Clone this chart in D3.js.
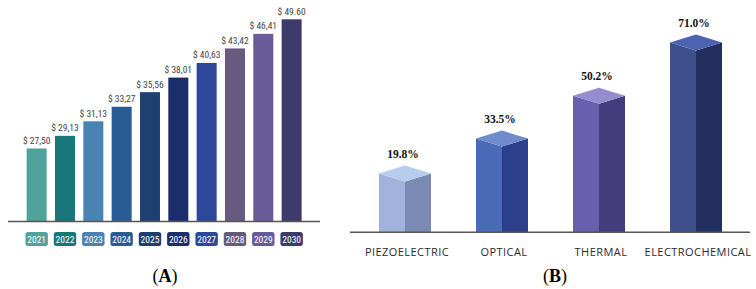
<!DOCTYPE html>
<html>
<head>
<meta charset="utf-8">
<script src="https://cdn.jsdelivr.net/npm/d3@7"></script>
<style>
  body { margin: 0; background: #fff; }
  svg { display: block; }
</style>
</head>
<body>
<div id="chart"></div>
<script>
// panel A: market size per year
const years = ["2021", "2022", "2023", "2024", "2025", "2026", "2027", "2028", "2029", "2030"];
const marketValues = [27.50, 29.13, 31.13, 33.27, 35.56, 38.01, 40.63, 43.42, 46.41, 49.60];
const marketLabels = ["$ 27,50", "$ 29,13", "$ 31,13", "$ 33,27", "$ 35,56", "$ 38,01", "$ 40,63", "$ 43,42", "$ 46,41", "$ 49.60"];
const yearColors = ["#4fa39b", "#19777c", "#4b82b4", "#295c95", "#1f3e72", "#1c2d6d", "#2d4898", "#665a81", "#675b9a", "#3d3b6b"];

// panel B: share per sensor type
const sensorTypes = ["PIEZOELECTRIC", "OPTICAL", "THERMAL", "ELECTROCHEMICAL"];
const sensorShares = [19.8, 33.5, 50.2, 71.0];
const faceColors = [
    { left: "#a2b2dc", right: "#7b8ab5", top: "#b7cdee" },
    { left: "#4a6bb8", right: "#2b3f8c", top: "#6f8bcc" },
    { left: "#6a5fae", right: "#433e7b", top: "#968cd0" },
    { left: "#3e4f8c", right: "#232f5e", top: "#4c63b0" }
];

const width = 756, height = 289;
const svg = d3.select("#chart").append("svg")
    .attr("width", width)
    .attr("height", height);

// ---------- panel A ----------
const baseA = 221.5;
const xA = d3.scaleBand()
    .domain(years)
    .range([22.5, 305.8])
    .paddingInner(0.294)
    .paddingOuter(0.147);
// the bars in the source grow roughly with the log of the value
const yA = d3.scaleLog()
    .domain([19.7, 49.6])
    .range([baseA, 19.3]);

const gA = svg.append("g");
const narrow = "'Liberation Sans Narrow', 'Roboto Condensed', 'Open Sans', sans-serif";

gA.selectAll("rect.bar")
    .data(years)
    .enter().append("rect")
    .attr("class", "bar")
    .attr("x", d => xA(d))
    .attr("y", (d, i) => yA(marketValues[i]))
    .attr("width", xA.bandwidth())
    .attr("height", (d, i) => baseA - yA(marketValues[i]))
    .attr("fill", (d, i) => yearColors[i]);

gA.selectAll("text.val")
    .data(years)
    .enter().append("text")
    .attr("class", "val")
    .attr("x", d => xA(d) + xA.bandwidth() / 2)
    .attr("y", (d, i) => yA(marketValues[i]) - 4.5)
    .attr("text-anchor", "middle")
    .style("font-family", narrow)
    .style("font-size", "9.5px")
    .style("fill", "#444")
    .text((d, i) => marketLabels[i]);

gA.append("line")
    .attr("x1", 8).attr("x2", 320)
    .attr("y1", baseA).attr("y2", baseA)
    .attr("stroke", "#555")
    .attr("stroke-width", 1.5);

const badgeW = 22.4;
gA.selectAll("rect.badge")
    .data(years)
    .enter().append("rect")
    .attr("class", "badge")
    .attr("x", d => xA(d) + xA.bandwidth() / 2 - badgeW / 2)
    .attr("y", 232)
    .attr("width", badgeW)
    .attr("height", 14)
    .attr("rx", 2.5)
    .attr("fill", (d, i) => yearColors[i]);

gA.selectAll("text.year")
    .data(years)
    .enter().append("text")
    .attr("class", "year")
    .attr("x", d => xA(d) + xA.bandwidth() / 2)
    .attr("y", 242.8)
    .attr("text-anchor", "middle")
    .style("font-family", narrow)
    .style("font-size", "9.5px")
    .style("fill", "#fff")
    .text(d => d);

// ---------- panel B ----------
const baseB = 232.3;
const xB = d3.scalePoint()
    .domain(sensorTypes)
    .range([405, 696]);
const yB = d3.scaleLinear()
    .domain([0, 80])
    .range([baseB, baseB - 80 * 2.56]);

const half = 26, dip = 8;
const gB = svg.append("g");

const bars = gB.selectAll("g.bar3d")
    .data(sensorTypes)
    .enter().append("g")
    .attr("class", "bar3d");

bars.each(function (d, i) {
    const g = d3.select(this);
    const c = xB(d);
    const f = yB(sensorShares[i]);
    const col = faceColors[i];
    // left front face
    g.append("polygon")
        .attr("points", [[c - half, f - dip], [c, f], [c, baseB], [c - half, baseB]].join(" "))
        .attr("fill", col.left);
    // right side face
    g.append("polygon")
        .attr("points", [[c, f], [c + half, f - dip], [c + half, baseB], [c, baseB]].join(" "))
        .attr("fill", col.right);
    // top
    g.append("polygon")
        .attr("points", [[c - half, f - dip], [c, f - 2 * dip], [c + half, f - dip], [c, f]].join(" "))
        .attr("fill", col.top);
    // value label
    g.append("text")
        .attr("x", c - 2)
        .attr("y", f - 2 * dip - 8)
        .attr("text-anchor", "middle")
        .style("font-family", "'Liberation Serif', 'Times New Roman', serif")
        .style("font-weight", "bold")
        .style("font-size", "11.5px")
        .style("fill", "#111")
        .text(sensorShares[i].toFixed(1) + "%");
});

gB.append("line")
    .attr("x1", 350).attr("x2", 750)
    .attr("y1", baseB).attr("y2", baseB)
    .attr("stroke", "#555")
    .attr("stroke-width", 1.5);

gB.selectAll("text.cat")
    .data(sensorTypes)
    .enter().append("text")
    .attr("class", "cat")
    .attr("x", d => xB(d) + 2)
    .attr("y", 255.5)
    .attr("text-anchor", "middle")
    .style("font-family", "'Open Sans', 'Noto Sans', sans-serif")
    .style("font-size", "11px")
    .style("letter-spacing", "0.45px")
    .style("fill", "#2a2a2a")
    .text(d => d);

// panel captions
function caption(x, letter) {
    const t = svg.append("text")
        .attr("x", x)
        .attr("y", 282)
        .attr("text-anchor", "middle")
        .style("font-family", "'Liberation Serif', 'Times New Roman', serif")
        .style("font-size", "18px")
        .style("fill", "#000");
    t.append("tspan").text("(");
    t.append("tspan").style("font-weight", "bold").text(letter);
    t.append("tspan").text(")");
}
caption(165, "A");
caption(555, "B");
</script>
</body>
</html>
